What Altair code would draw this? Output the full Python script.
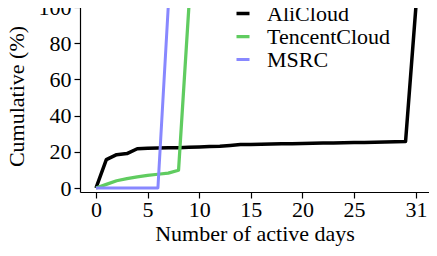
import altair as alt
import pandas as pd

ali_days = list(range(0, 32))
ali_vals = [0, 15.7, 18.4, 19.0, 21.7, 22.0, 22.1, 22.2, 22.3, 22.5, 22.7, 22.9, 23.1,
            23.5, 24.0, 24.1, 24.2, 24.3, 24.4, 24.5, 24.6, 24.7, 24.8, 24.9, 25.0,
            25.1, 25.2, 25.3, 25.4, 25.5, 25.7, 100]
ten_days = list(range(0, 10))
ten_vals = [0, 2.0, 4.0, 5.2, 6.2, 7.0, 7.6, 8.2, 9.8, 100]
ms_days = list(range(0, 8))
ms_vals = [0, 0, 0, 0, 0, 0, 0, 100]

series = ["AliCloud", "TencentCloud", "MSRC"]
colors = ["#000000", "#60cc60", "#8888ff"]
widths = [3.5, 3.0, 2.0]
x_ticks = [0, 5, 10, 15, 20, 25, 31]
y_ticks = [0, 20, 40, 60, 80, 100]

rows = []
for name, days, vals in [("AliCloud", ali_days, ali_vals),
                         ("TencentCloud", ten_days, ten_vals),
                         ("MSRC", ms_days, ms_vals)]:
    for d, v in zip(days, vals):
        rows.append({"series": name, "day": d, "value": v})
df = pd.DataFrame(rows)

FONT = "Liberation Serif"

chart = alt.Chart(df).mark_line(strokeJoin="round").encode(
    x=alt.X("day:Q",
            scale=alt.Scale(domain=[-1.55, 32.27], nice=False, zero=False),
            axis=alt.Axis(values=x_ticks, title="Number of active days", grid=False,
                          tickSize=6, labelPadding=1, titlePadding=3)),
    y=alt.Y("value:Q",
            scale=alt.Scale(domain=[-2.21, 103.87], nice=False, zero=False),
            axis=alt.Axis(values=y_ticks, title="Cumulative (%)", grid=False,
                          tickSize=6, labelPadding=3, titlePadding=10)),
    color=alt.Color("series:N", scale=alt.Scale(domain=series, range=colors),
                    sort=series,
                    legend=alt.Legend(title=None, orient="none", legendX=152, legendY=4,
                                      symbolType="stroke", symbolSize=169,
                                      labelFontSize=22, labelFont=FONT,
                                      rowPadding=0, clipHeight=19, padding=0,
                                      labelOffset=13, labelColor="black")),
    strokeWidth=alt.StrokeWidth("series:N", scale=alt.Scale(domain=series, range=widths),
                                sort=series, legend=None),
    order=alt.Order("day:Q"),
).properties(
    width=349, height=192,
    autosize=alt.AutoSizeParams(type="none"),
    padding={"left": 72, "top": -8, "right": 0, "bottom": 56},
).configure_view(stroke=None).configure_axis(
    labelFont=FONT, titleFont=FONT, labelFontSize=22, titleFontSize=22,
    labelColor="black", titleColor="black", titleFontWeight="normal",
    domainColor="black", tickColor="black", domainWidth=1.2, tickWidth=1.2,
)

chart.save("out.html", embed_options={"renderer": "svg", "actions": False})
